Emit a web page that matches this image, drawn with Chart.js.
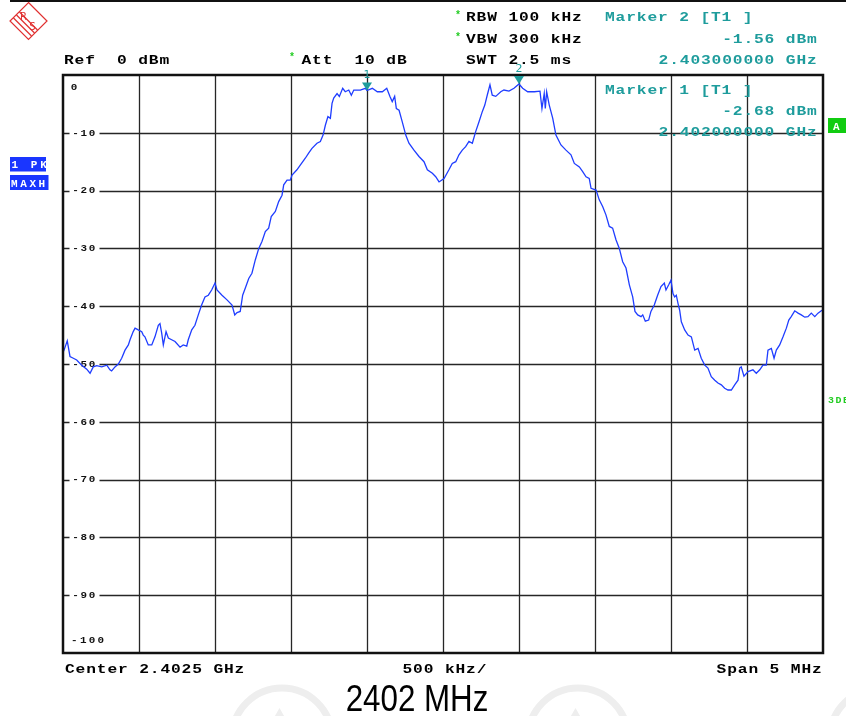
<!DOCTYPE html>
<html>
<head>
<meta charset="utf-8">
<title>2402 MHz</title>
<script src="https://cdn.jsdelivr.net/npm/chart.js@4.4.1/dist/chart.umd.min.js"></script>
<style>
  html, body { margin: 0; padding: 0; background: #fff; }
  #wrap { position: relative; width: 846px; height: 716px; }
</style>
</head>
<body>
<div id="wrap"><canvas id="spectrum" width="846" height="716"></canvas></div>
<script>
// trace: frequency offset from 2.400 GHz (MHz) and level (dBm)
const freqMHz = [
  0.000, 0.007, 0.028, 0.046, 0.068, 0.090, 0.123, 0.156, 0.178, 0.199,
  0.222, 0.255, 0.288, 0.309, 0.320, 0.342, 0.364, 0.386, 0.408, 0.430,
  0.441, 0.462, 0.474, 0.495, 0.518, 0.528, 0.539, 0.561, 0.584, 0.605,
  0.627, 0.638, 0.649, 0.660, 0.678, 0.693, 0.715, 0.737, 0.770, 0.791,
  0.814, 0.824, 0.847, 0.868, 0.890, 0.912, 0.934, 0.956, 0.978, 1.000,
  1.013, 1.046, 1.079, 1.112, 1.130, 1.145, 1.166, 1.182, 1.199, 1.222,
  1.243, 1.265, 1.288, 1.309, 1.331, 1.353, 1.370, 1.397, 1.419, 1.441,
  1.452, 1.474, 1.495, 1.507, 1.539, 1.561, 1.594, 1.616, 1.638, 1.671,
  1.693, 1.711, 1.726, 1.743, 1.759, 1.770, 1.781, 1.803, 1.818, 1.840,
  1.857, 1.880, 1.897, 1.913, 1.956, 1.989,
  2.000, 2.035, 2.068, 2.101, 2.130, 2.151, 2.166, 2.182, 2.193, 2.211,
  2.232, 2.255, 2.276, 2.309, 2.342, 2.375, 2.397, 2.430, 2.452, 2.474,
  2.507, 2.539, 2.561, 2.584, 2.605, 2.627, 2.649, 2.671, 2.693, 2.715,
  2.737, 2.759, 2.775, 2.791, 2.809, 2.824, 2.847, 2.880, 2.901, 2.934,
  2.967, 3.000,
  3.024, 3.057, 3.101, 3.138, 3.151, 3.166, 3.173, 3.182, 3.199, 3.222,
  3.243, 3.276, 3.309, 3.342, 3.364, 3.397, 3.419, 3.441, 3.462, 3.474,
  3.507, 3.528, 3.551, 3.572, 3.594, 3.616, 3.638, 3.660, 3.682, 3.704,
  3.726, 3.748, 3.763, 3.781, 3.803, 3.814, 3.831, 3.853, 3.868, 3.890,
  3.912, 3.934, 3.956, 3.967, 3.985, 4.000,
  4.013, 4.024, 4.035, 4.046, 4.057, 4.068, 4.090, 4.112, 4.134, 4.156,
  4.178, 4.199, 4.222, 4.243, 4.265, 4.288, 4.309, 4.331, 4.353, 4.375,
  4.397, 4.419, 4.441, 4.452, 4.462, 4.480, 4.507, 4.539, 4.561, 4.584,
  4.605, 4.627, 4.638, 4.660, 4.678, 4.693, 4.715, 4.737, 4.759, 4.775,
  4.791, 4.814, 4.836, 4.857, 4.880, 4.901, 4.923, 4.946, 4.967, 4.989,
  5.000
];
const levelDbm = [
  -48.0, -47.6, -46.0, -48.7, -49.0, -49.3, -50.2, -50.9, -51.6, -50.5,
  -50.3, -50.5, -50.2, -51.0, -51.2, -50.5, -50.0, -49.0, -47.6, -46.7,
  -45.8, -44.4, -43.8, -44.1, -44.4, -45.0, -45.3, -46.7, -46.7, -45.3,
  -43.3, -43.0, -44.6, -46.7, -44.4, -45.5, -45.8, -46.1, -47.1, -46.7,
  -46.9, -45.8, -44.1, -43.3, -41.5, -39.8, -38.4, -38.1, -37.2, -36.0,
  -37.2, -38.1, -38.9, -39.8, -41.5, -41.1, -40.9, -38.1, -36.9, -35.2,
  -34.3, -32.0, -30.0, -28.8, -27.1, -26.5, -24.5, -23.6, -21.9, -20.8,
  -19.0, -18.2, -18.2, -17.3, -16.4, -15.6, -14.4, -13.5, -12.7, -11.8,
  -11.5, -10.4, -8.7, -7.2, -7.5, -4.9, -4.0, -3.2, -3.7, -2.3,
  -2.9, -2.6, -3.5, -2.6, -2.6, -2.3,
  -2.68, -2.3, -2.9, -2.9, -2.3, -3.7, -4.6, -3.7, -5.8, -6.1,
  -8.1, -10.4, -11.8, -13.0, -14.1, -15.0, -16.4, -17.0, -17.6, -18.5,
  -17.9, -16.4, -15.3, -15.0, -13.8, -13.0, -12.4, -11.5, -11.8, -9.8,
  -8.1, -6.3, -5.2, -3.5, -1.7, -3.5, -3.7, -2.9, -2.6, -2.8,
  -2.3, -1.56,
  -2.3, -2.9, -2.9, -2.8, -5.8, -3.2, -5.8, -2.9, -5.2, -7.5,
  -10.4, -12.1, -13.0, -13.8, -15.3, -15.9, -16.7, -17.6, -17.9, -19.6,
  -19.9, -21.6, -22.8, -24.2, -26.2, -26.5, -28.5, -30.0, -32.3, -33.4,
  -36.3, -38.4, -40.9, -41.5, -41.8, -41.5, -42.6, -42.4, -40.9, -39.8,
  -38.1, -36.6, -36.0, -37.2, -36.3, -35.5,
  -37.8, -38.4, -38.1, -39.5, -40.7, -42.7, -44.1, -45.0, -45.3, -47.6,
  -47.3, -49.0, -50.2, -50.7, -52.2, -52.8, -53.3, -53.6, -54.2, -54.5,
  -54.5, -53.6, -52.8, -50.7, -50.5, -52.1, -51.3, -51.0, -51.6, -51.0,
  -50.2, -50.2, -47.6, -47.3, -49.0, -47.6, -46.7, -45.3, -43.8, -42.4,
  -41.8, -40.8, -41.2, -41.5, -41.9, -41.8, -41.2, -41.8, -41.2, -40.8,
  -40.6
];

// grid: 10 divisions of 500 kHz, 10 dB per division
const xTicks = [0, 0.5, 1, 1.5, 2, 2.5, 3, 3.5, 4, 4.5, 5];
const yTicks = [0, -10, -20, -30, -40, -50, -60, -70, -80, -90, -100];
const yTickLabels = ['0', '-10', '-20', '-30', '-40', '-50', '-60', '-70', '-80', '-90', '-100'];

// markers
const markerNames = ['1', '2'];
const markerFreqs = [2.0, 3.0];
const markerLevels = [-2.68, -1.56];

const MONO = 'bold 12.5px "Liberation Mono", "DejaVu Sans Mono", monospace';
const TEAL = '#1e9c9c';
const GREEN = '#22cc22';
const ADV = 10.6;

// draw text one char per fixed cell, like the analyzer's screen font (glyphs stretched wide)
function spaced(ctx, text, x, y, adv, color, font, sx) {
  sx = sx || 1.3;
  ctx.save();
  ctx.font = font || MONO;
  ctx.fillStyle = color || '#000';
  ctx.textAlign = 'left';
  ctx.textBaseline = 'alphabetic';
  for (let i = 0; i < text.length; i++) {
    ctx.save();
    ctx.translate(x + i * adv, y);
    ctx.scale(sx, 1);
    ctx.fillText(text[i], 0, 0);
    ctx.restore();
  }
  ctx.restore();
}
function spacedRight(ctx, text, right, y, adv, color, font, sx) {
  spaced(ctx, text, right - (text.length - 1) * adv - 9, y, adv, color, font, sx);
}

// faint watermark rings along the bottom edge
function watermark(ctx, cx, cy, r) {
  ctx.save();
  ctx.strokeStyle = '#eeeeee';
  ctx.lineWidth = 7;
  ctx.beginPath();
  ctx.arc(cx, cy, r, 0, Math.PI * 2);
  ctx.stroke();
  ctx.lineWidth = 5;
  ctx.beginPath();
  ctx.moveTo(cx - r * 0.45, cy + r * 0.2);
  ctx.lineTo(cx - r * 0.05, cy - r * 0.5);
  ctx.lineTo(cx + r * 0.35, cy + r * 0.2);
  ctx.moveTo(cx - r * 0.05, cy - r * 0.5);
  ctx.lineTo(cx - r * 0.05, cy + r * 0.3);
  ctx.stroke();
  ctx.restore();
}

const analyzerPlugin = {
  id: 'analyzer',
  beforeDraw(chart) {
    const ctx = chart.ctx;
    watermark(ctx, 282, 738, 50);
    watermark(ctx, 578, 738, 50);
    watermark(ctx, 880, 738, 50);
  },
  beforeDatasetsDraw(chart) {
    const ctx = chart.ctx;
    const a = chart.chartArea;
    const xs = chart.scales.x, ys = chart.scales.y;
    ctx.save();
    ctx.strokeStyle = '#262626';
    ctx.lineWidth = 1.3;
    xTicks.slice(1, -1).forEach(t => {
      const x = Math.round(xs.getPixelForValue(t)) + 0.5;
      ctx.beginPath(); ctx.moveTo(x, a.top); ctx.lineTo(x, a.bottom); ctx.stroke();
    });
    yTicks.slice(1, -1).forEach(t => {
      const y = Math.round(ys.getPixelForValue(t)) + 0.5;
      ctx.beginPath(); ctx.moveTo(a.left, y); ctx.lineTo(a.right, y); ctx.stroke();
    });
    // level labels sit on the grid lines with a white gap
    const small = 'bold 9.5px "Liberation Mono", "DejaVu Sans Mono", monospace';
    ctx.font = small;
    ctx.textAlign = 'center';
    ctx.textBaseline = 'middle';
    yTicks.forEach((t, i) => {
      const lbl = yTickLabels[i];
      let y = ys.getPixelForValue(t);
      if (i === 0) {
        y = a.top + 12;
      } else if (i === yTicks.length - 1) {
        y = a.bottom - 13;
      } else {
        ctx.fillStyle = '#fff';
        ctx.fillRect(a.left + 6.5, y - 5, 30, 10);
      }
      const adv = lbl.length > 3 ? 8.8 : 8.2;
      const x0 = lbl.length > 3 ? a.left + 7 : (lbl.length === 1 ? a.left + 7 : a.left + 8.5);
      ctx.fillStyle = '#111';
      for (let k = 0; k < lbl.length; k++) {
        ctx.save();
        ctx.translate(x0 + adv * (k + 0.5), y + 0.5);
        ctx.scale(1.15, 1);
        ctx.fillText(lbl[k], 0, 0);
        ctx.restore();
      }
    });
    ctx.restore();
  },
  afterDatasetsDraw(chart) {
    const ctx = chart.ctx;
    const a = chart.chartArea;
    const xs = chart.scales.x, ys = chart.scales.y;
    ctx.save();
    // frame
    ctx.strokeStyle = '#111';
    ctx.lineWidth = 2.5;
    ctx.strokeRect(a.left, a.top, a.right - a.left, a.bottom - a.top);
    // markers
    markerNames.forEach((n, i) => {
      const px = xs.getPixelForValue(markerFreqs[i]);
      const py = ys.getPixelForValue(markerLevels[i]);
      ctx.fillStyle = TEAL;
      ctx.beginPath();
      ctx.moveTo(px, py);
      ctx.lineTo(px - 5, py - 8);
      ctx.lineTo(px + 5, py - 8);
      ctx.closePath();
      ctx.fill();
      ctx.font = '11px "DejaVu Sans", sans-serif';
      ctx.textAlign = 'center';
      ctx.textBaseline = 'alphabetic';
      ctx.fillText(n, px, py - 12);
    });
    // marker 1 readout inside the screen
    spaced(ctx, 'Marker 1 [T1 ]', 605, 93.5, ADV, TEAL);
    spacedRight(ctx, '-2.68 dBm', 816, 115, ADV, TEAL);
    spacedRight(ctx, '2.402000000 GHz', 816, 136, ADV, TEAL);
    ctx.restore();
  },
  afterDraw(chart) {
    const ctx = chart.ctx;
    ctx.save();
    // top rule
    ctx.fillStyle = '#111';
    ctx.fillRect(10, 0, 836, 2);

    // R&S logo
    ctx.strokeStyle = '#e03030';
    ctx.fillStyle = '#e03030';
    ctx.lineWidth = 1.2;
    const cx = 28.5, cy = 21, r = 18.5;
    ctx.beginPath();
    ctx.moveTo(cx, cy - r); ctx.lineTo(cx + r, cy); ctx.lineTo(cx, cy + r); ctx.lineTo(cx - r, cy); ctx.closePath();
    ctx.stroke();
    [-3, 0, 3].forEach(o => {
      ctx.beginPath();
      ctx.moveTo(cx - 12 + o, cy - 6 - o);
      ctx.lineTo(cx + 6 + o, cy + 12 - o);
      ctx.stroke();
    });
    ctx.font = '10px "DejaVu Sans", sans-serif';
    ctx.textAlign = 'center';
    ctx.fillText('R', cx - 5, cy - 1);
    ctx.fillText('S', cx + 4, cy + 9);

    // header
    const star = 'bold 10px "Liberation Mono", monospace';
    spaced(ctx, 'Ref  0 dBm', 64, 63.5, ADV);
    spaced(ctx, '*', 289, 60, ADV, GREEN, star, 1);
    spaced(ctx, 'Att  10 dB', 301.5, 63.5, ADV);
    spaced(ctx, '*', 455, 18, ADV, GREEN, star, 1);
    spaced(ctx, 'RBW 100 kHz', 466, 21, ADV);
    spaced(ctx, '*', 455, 39.5, ADV, GREEN, star, 1);
    spaced(ctx, 'VBW 300 kHz', 466, 42.5, ADV);
    spaced(ctx, 'SWT 2.5 ms', 466, 63.5, ADV);
    spaced(ctx, 'Marker 2 [T1 ]', 605, 21, ADV, TEAL);
    spacedRight(ctx, '-1.56 dBm', 816, 42.5, ADV, TEAL);
    spacedRight(ctx, '2.403000000 GHz', 816, 63.5, ADV, TEAL);

    // trace state boxes
    const boxFont = 'bold 10px "Liberation Mono", monospace';
    ctx.fillStyle = '#1a36ff';
    ctx.fillRect(10, 157, 36, 14.5);
    ctx.fillRect(10, 175, 38.5, 15);
    spaced(ctx, '1 PK', 11.5, 168, 9.6, '#fff', boxFont, 1.1);
    spaced(ctx, 'MAXH', 11, 186.5, 9.2, '#fff', boxFont, 1.1);

    // right side flags
    ctx.fillStyle = '#11cc11';
    ctx.fillRect(828, 118, 18, 15);
    spaced(ctx, 'A', 833, 129.5, 9, '#fff', boxFont, 1.1);
    spaced(ctx, '3DB', 828, 402.5, 7.5, GREEN, 'bold 9px "Liberation Mono", monospace', 1.1);

    // footer
    spaced(ctx, 'Center 2.4025 GHz', 65, 673, ADV);
    spaced(ctx, '500 kHz/', 402.5, 673, ADV);
    spacedRight(ctx, 'Span 5 MHz', 821, 673, ADV);

    // caption
    ctx.save();
    ctx.translate(417, 711);
    ctx.scale(0.87, 1);
    ctx.font = '36px "Liberation Sans", Arial, sans-serif';
    ctx.fillStyle = '#000';
    ctx.textAlign = 'center';
    ctx.textBaseline = 'alphabetic';
    ctx.fillText('2402 MHz', 0, 0);
    ctx.restore();
    ctx.restore();
  }
};

const points = freqMHz.map((f, i) => ({ x: f, y: levelDbm[i] }));

new Chart(document.getElementById('spectrum'), {
  type: 'line',
  data: {
    datasets: [{
      label: 'Trace 1',
      data: points,
      borderColor: '#1f3dff',
      borderWidth: 1.3,
      pointRadius: 0,
      fill: false,
      tension: 0
    }]
  },
  options: {
    responsive: false,
    animation: false,
    devicePixelRatio: 1,
    layout: { padding: { left: 63, top: 75, right: 23, bottom: 63 } },
    scales: {
      x: { type: 'linear', min: 0, max: 5, display: false },
      y: { type: 'linear', min: -100, max: 0, display: false }
    },
    plugins: {
      legend: { display: false },
      tooltip: { enabled: false }
    }
  },
  plugins: [analyzerPlugin]
});
</script>
</body>
</html>
